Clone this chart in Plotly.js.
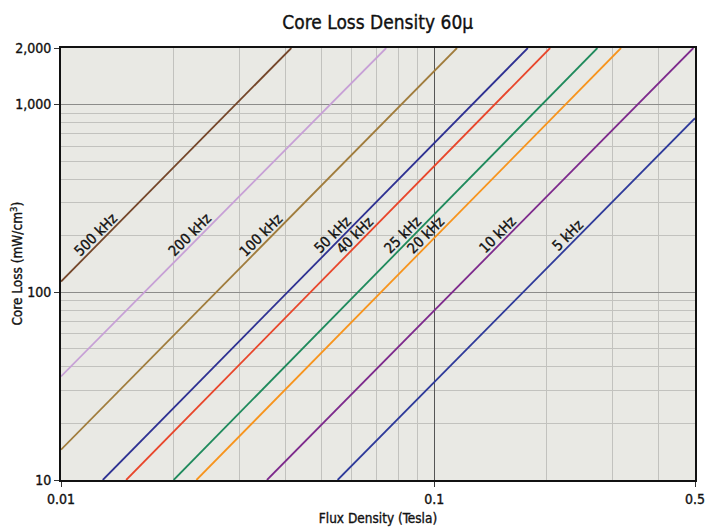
<!DOCTYPE html>
<html>
<head>
<meta charset="utf-8">
<script src="https://cdn.plot.ly/plotly-3.0.1.min.js"></script>
<style>
html,body{margin:0;padding:0;background:#fff;}
#chart{width:706px;height:531px;}
#chart svg text{paint-order:stroke;stroke:#111 !important;stroke-width:0.35px !important;}
</style>
</head>
<body>
<div id="chart"></div>
<script>
// Series (each curve is a straight line on log-log axes: start and end points)
const freqLabels = ['500 kHz','200 kHz','100 kHz','50 kHz','40 kHz','25 kHz','20 kHz','10 kHz','5 kHz'];
const fluxStart  = [0.01, 0.01, 0.01, 0.01294, 0.01495, 0.02004, 0.02306, 0.03564, 0.05511];
const lossStart  = [114, 35.6, 14.5, 10, 10, 10, 10, 10, 10];
const fluxEnd    = [0.04142, 0.07438, 0.1151, 0.1782, 0.2045, 0.2738, 0.3167, 0.495, 0.5];
const lossEnd    = [2000, 2000, 2000, 2000, 2000, 2000, 2000, 2000, 845];
const colors     = ['#74462a','#c7a0d6','#a07c3c','#2e3192','#e8462b','#1f8a5c','#f7941d','#7d2a8c','#2e3a9a'];

const xTickVals = [0.01, 0.1, 0.5];
const xTickText = ['0.01', '0.1', '0.5'];
const yTickVals = [10, 100, 1000, 2000];
const yTickText = ['10', '100', '1,000', '2,000'];
const xMinor = [0.02,0.03,0.04,0.05,0.06,0.07,0.08,0.09,0.2,0.3,0.4];
const yMinor = [20,30,40,50,60,70,80,90,200,300,400,500,600,700,800,900];
const labelLoss = 188;
const yTitle = 'Core Loss (mW/cm<sup>3</sup>)';

const FONT = '"DejaVu Sans Condensed", "Liberation Sans Narrow", Roboto, sans-serif';

const traces = freqLabels.map((name, i) => ({
  type: 'scatter', mode: 'lines', name: name,
  x: [fluxStart[i], fluxEnd[i]],
  y: [lossStart[i], lossEnd[i]],
  line: {color: colors[i], width: 1.8},
  hoverinfo: 'skip'
}));

// label positions: point on each line at a common loss level (log-space interpolation)
const annotations = freqLabels.map((name, i) => {
  const lx0 = Math.log10(fluxStart[i]), lx1 = Math.log10(fluxEnd[i]);
  const ly0 = Math.log10(lossStart[i]), ly1 = Math.log10(lossEnd[i]);
  const ly = Math.log10(labelLoss);
  const t = (ly - ly0) / (ly1 - ly0);
  return {
    x: lx0 + t * (lx1 - lx0), y: ly, xref: 'x', yref: 'y',
    text: name, showarrow: false, textangle: -45,
    xshift: -6, yshift: 6,
    font: {family: FONT, size: 14.5, color: '#111'}
  };
});

// y-axis title drawn as a rotated annotation so it can sit where the reference puts it
annotations.push({
  text: yTitle, xref: 'paper', yref: 'paper', x: -0.07, y: 0.5,
  xanchor: 'center', yanchor: 'middle', textangle: -90, showarrow: false,
  font: {family: FONT, size: 13.5, color: '#111'}
});

const layout = {
  width: 706, height: 531,
  margin: {l: 60.5, r: 11, t: 48, b: 50.7, pad: 0},
  paper_bgcolor: '#ffffff',
  plot_bgcolor: '#e9e9e4',
  showlegend: false,
  font: {family: FONT, size: 14, color: '#111'},
  title: {text: 'Core Loss Density 60μ', x: 0.535, xanchor: 'center', y: 0.958, yanchor: 'middle',
          font: {family: FONT, size: 19, color: '#111'}},
  xaxis: {
    type: 'log', range: [Math.log10(0.01), Math.log10(0.5)],
    tickmode: 'array', tickvals: xTickVals, ticktext: xTickText,
    ticks: 'outside', ticklen: 5, tickcolor: '#333', tickwidth: 1,
    showgrid: true, gridcolor: '#555', gridwidth: 1,
    minor: {tickmode: 'array', tickvals: xMinor, showgrid: true, gridcolor: '#c2c2be', gridwidth: 1, ticks: ''},
    showline: true, linecolor: '#111', linewidth: 2, mirror: true,
    zeroline: false,
    tickfont: {family: FONT, size: 14, color: '#111'},
    title: {text: 'Flux Density (Tesla)', standoff: 8, font: {family: FONT, size: 13.5, color: '#111'}}
  },
  yaxis: {
    type: 'log', range: [Math.log10(10), Math.log10(2000)],
    tickmode: 'array', tickvals: yTickVals, ticktext: yTickText,
    ticks: 'outside', ticklen: 5, tickcolor: '#333', tickwidth: 1,
    showgrid: true, gridcolor: '#8c8c8a', gridwidth: 1,
    minor: {tickmode: 'array', tickvals: yMinor, showgrid: true, gridcolor: '#c2c2be', gridwidth: 1, ticks: ''},
    showline: true, linecolor: '#111', linewidth: 2, mirror: true,
    zeroline: false,
    tickfont: {family: FONT, size: 14, color: '#111'}
  },
  annotations: annotations
};

Plotly.newPlot('chart', traces, layout, {displayModeBar: false, staticPlot: true});
</script>
</body>
</html>
